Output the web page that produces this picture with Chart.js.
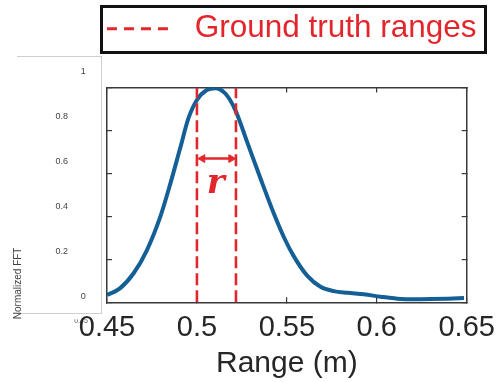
<!DOCTYPE html>
<html>
<head>
<meta charset="utf-8">
<script src="https://cdn.jsdelivr.net/npm/chart.js@4"></script>
<style>
  html, body { margin: 0; padding: 0; background: #fff; }
  #wrap { position: relative; width: 498px; height: 382px; overflow: hidden; }
  #wrap canvas { position: absolute; left: 0; top: 0; }
  #fftBox { position: absolute; left: 17px; top: 56px; width: 84px; height: 256px; border: 1px solid #cfcfcf; border-left: none; }
  #legendFrame { position: absolute; left: 100px; top: 5px; width: 381px; height: 43px; border: 3px solid #111; }
</style>
</head>
<body>
<div id="wrap">
  <div id="fftBox"></div>
  <canvas id="axisChart" width="110" height="340"></canvas>
  <canvas id="mainChart" width="498" height="382"></canvas>
  <div id="legendFrame"></div>
</div>
<script>
// range profile
const rangeM = [0.45, 0.4572, 0.4647, 0.4721, 0.4795, 0.4851, 0.4907, 0.4953, 0.5, 0.5055,
  0.5102, 0.5158, 0.5213, 0.5278, 0.5352, 0.5427, 0.5491, 0.5538, 0.5613, 0.5687,
  0.5761, 0.5836, 0.5928, 0.6021, 0.6114, 0.6206, 0.6299, 0.6392, 0.6485];
const fftNorm = [0.034, 0.065, 0.134, 0.241, 0.395, 0.549, 0.718, 0.857, 0.942, 0.988,
  0.997, 0.972, 0.896, 0.749, 0.580, 0.415, 0.290, 0.215, 0.124, 0.072,
  0.052, 0.044, 0.037, 0.026, 0.017, 0.014, 0.015, 0.017, 0.020];

const truthRanges = [0.5, 0.5217];
const arrowEnds = [0.5031, 0.519];
const arrowLevel = 0.669;
const rLabel = "r";
const rLabelAt = { x: 0.5105, y: 0.51 };

const xTicks = [0.45, 0.5, 0.55, 0.6, 0.65];
const yTicks = [0, 0.2, 0.4, 0.6, 0.8, 1];
const sideTicksInner = [1, 0];
const sideTicksOuter = [0.8, 0.6, 0.4, 0.2];
const sideXTicks = [0.45];

const legendText = "Ground truth ranges";
const xTitle = "Range (m)";
const yTitle = "Normalized FFT";

const RED = "#e3262c";
const BLUE = "#145f96";
const FRAME = "#3a3a3a";
const TXT = "#262626";

Chart.defaults.font.family = "'Liberation Sans', Arial, sans-serif";

function fixTicks(values) {
  return s => { s.ticks = values.map(v => ({ value: v })); };
}

const innerTicks = { drawOnChartArea: false, drawTicks: true, tickLength: -5, color: FRAME, lineWidth: 1.2 };
const frameBorder = { display: true, color: FRAME, width: 1.5 };
const noGrid = { display: false, drawTicks: false };

const rLabelPlugin = {
  id: "rLabel",
  afterDatasetsDraw(chart) {
    const { ctx, scales } = chart;
    ctx.save();
    ctx.font = "italic bold 34px 'DejaVu Serif', serif";
    ctx.fillStyle = RED;
    ctx.textAlign = "center";
    ctx.textBaseline = "alphabetic";
    ctx.fillText(rLabel, scales.x.getPixelForValue(rLabelAt.x), scales.y.getPixelForValue(rLabelAt.y));
    ctx.restore();
  }
};

new Chart(document.getElementById("mainChart"), {
  type: "line",
  data: {
    datasets: [
      {
        label: legendText,
        data: truthRanges.flatMap(x => [{ x, y: 0 }, { x, y: 1 }, { x, y: null }]),
        borderColor: RED,
        borderWidth: 2.6,
        borderDash: [12, 5],
        pointRadius: 0,
        spanGaps: false
      },
      {
        label: "r",
        data: arrowEnds.map(x => ({ x, y: arrowLevel })),
        borderColor: RED,
        backgroundColor: RED,
        borderWidth: 2.5,
        pointStyle: "triangle",
        pointRadius: 4.5,
        pointRotation: [270, 90],
        pointBorderWidth: 1
      },
      {
        label: "FFT",
        data: rangeM.map((x, i) => ({ x, y: fftNorm[i] })),
        borderColor: BLUE,
        borderWidth: 4,
        pointRadius: 0,
        cubicInterpolationMode: "monotone"
      }
    ]
  },
  options: {
    responsive: false,
    animation: false,
    events: [],
    layout: { padding: { left: 0, top: 5, right: 13.4, bottom: 0 } },
    plugins: {
      tooltip: { enabled: false },
      legend: {
        position: "top",
        align: "end",
        labels: {
          usePointStyle: true,
          pointStyleWidth: 72,
          padding: 8,
          color: RED,
          font: { size: 31.5 },
          generateLabels: () => [{
            text: legendText,
            datasetIndex: 0,
            fillStyle: RED,
            strokeStyle: RED,
            fontColor: RED,
            lineWidth: 3,
            lineDash: [10, 7, 10, 7, 10, 7, 10, 21],
            pointStyle: "line",
            hidden: false
          }]
        }
      }
    },
    scales: {
      x: {
        type: "linear",
        position: "bottom",
        min: 0.45,
        max: 0.65,
        afterBuildTicks: fixTicks(xTicks),
        ticks: { color: TXT, font: { size: 29 }, padding: 13.6, callback: v => String(v) },
        grid: innerTicks,
        border: frameBorder,
        title: { display: true, text: xTitle, color: TXT, font: { size: 30 }, padding: { top: 0, bottom: 0.5 } },
        afterFit: s => { s.height = 79.7; s.paddingLeft = 0; s.paddingRight = 0; }
      },
      xTop: {
        type: "linear",
        position: "top",
        min: 0.45,
        max: 0.65,
        afterBuildTicks: fixTicks(xTicks),
        ticks: { display: false },
        grid: innerTicks,
        border: frameBorder,
        afterFit: s => { s.height = 33; }
      },
      y: {
        type: "linear",
        position: "left",
        min: 0,
        max: 1,
        afterBuildTicks: fixTicks(yTicks),
        ticks: { display: false },
        grid: innerTicks,
        border: frameBorder,
        afterFit: s => { s.width = 107; }
      },
      yRight: {
        type: "linear",
        position: "right",
        min: 0,
        max: 1,
        afterBuildTicks: fixTicks(yTicks),
        ticks: { display: false },
        grid: innerTicks,
        border: frameBorder,
        afterFit: s => { s.width = 17.9; }
      }
    }
  },
  plugins: [rLabelPlugin]
});

// the small stray axis panel on the left
const sideFont = { size: 9 };
new Chart(document.getElementById("axisChart"), {
  type: "line",
  data: { datasets: [] },
  options: {
    responsive: false,
    animation: false,
    events: [],
    layout: { padding: { left: 0, top: 72, right: 2, bottom: 8.8 } },
    plugins: { legend: { display: false }, tooltip: { enabled: false } },
    scales: {
      x: {
        type: "linear",
        min: 0.45,
        max: 0.65,
        afterBuildTicks: fixTicks(sideXTicks),
        ticks: { align: "end", padding: -2, color: "#555", font: { size: 7 }, callback: v => String(v) },
        grid: noGrid,
        border: { display: false },
        afterFit: s => { s.height = 12; s.paddingLeft = 0; s.paddingRight = 0; }
      },
      y: {
        type: "linear",
        position: "left",
        weight: 1,
        min: -0.1,
        max: 1,
        afterBuildTicks: fixTicks(sideTicksInner),
        ticks: { padding: 2, color: "#444", font: sideFont, callback: v => String(v) },
        grid: noGrid,
        border: { display: false },
        afterFit: s => { s.width = 12; }
      },
      y2: {
        type: "linear",
        position: "left",
        weight: 2,
        min: -0.1,
        max: 1,
        afterBuildTicks: fixTicks(sideTicksOuter),
        ticks: { padding: 7.8, color: "#444", font: sideFont, callback: v => String(v) },
        grid: noGrid,
        border: { display: false },
        title: { display: true, text: yTitle, align: "start", color: "#444", font: { size: 10 }, padding: { top: 12.3, bottom: 0 } },
        afterFit: s => { s.width = 75.8; }
      }
    }
  }
});
</script>
</body>
</html>
